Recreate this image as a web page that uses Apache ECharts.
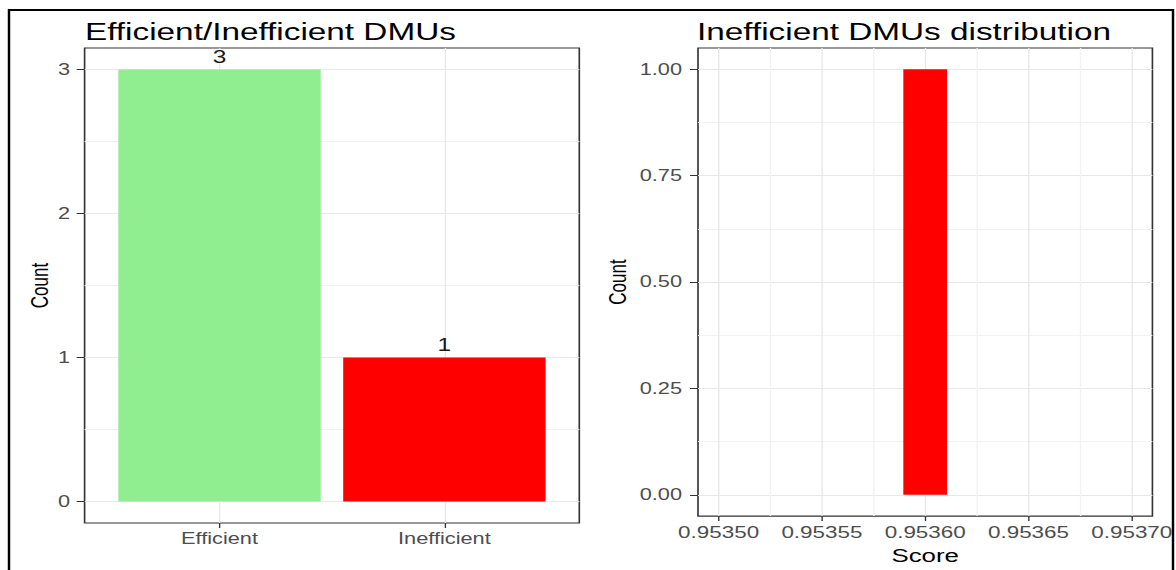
<!DOCTYPE html>
<html>
<head>
<meta charset="utf-8">
<script src="https://cdn.jsdelivr.net/npm/echarts@6/dist/echarts.min.js"></script>
<style>
html,body{margin:0;padding:0;background:#fff;overflow:hidden;width:1176px;height:570px;}
#chart{position:absolute;left:0;top:0;height:570px;transform-origin:0 0;}
</style>
</head>
<body>
<div id="chart"></div>
<script>
// ---- data ----
const categories = ['Efficient', 'Inefficient'];
const counts = [3, 1];
const barColors = ['#90EE90', '#FF0000'];
const countTicksLeft = [0, 1, 2, 3];
const countMinorLeft = [0.5, 1.5, 2.5];

const scoreBinStart = [0.9535894];
const scoreBinEnd = [0.9536106];
const scoreCounts = [1];
const scoreTicks = [0.95350, 0.95355, 0.95360, 0.95365, 0.95370];
const scoreMinor = [0.953525, 0.953575, 0.953625, 0.953675];
const countTicksRight = [0, 0.25, 0.5, 0.75, 1];
const countMinorRight = [0.125, 0.375, 0.625, 0.875];

// ---- layout (the reference is horizontally stretched) ----
const S = 1.36;
const W = 1176 / S;
const px = v => v / S;
const el = document.getElementById('chart');
el.style.width = W + 'px';
el.style.transform = 'scaleX(' + S + ')';

const FONT = '"Liberation Sans", Arial, sans-serif';
const tickColor = '#4d4d4d';
const majorGrid = {show: true, lineStyle: {color: '#e8e8e8', width: 1}};
const minorGrid = {show: true, lineStyle: {color: '#f2f2f2', width: 1}};

function hiddenAxis(base) {
  return Object.assign({
    axisLine: {show: false, onZero: false},
    axisTick: {show: false},
    axisLabel: {show: false},
  }, base);
}

const chart = echarts.init(el, null, {renderer: 'svg'});
chart.setOption({
  animation: false,
  title: [
    {text: 'Efficient/Inefficient DMUs', left: px(85), top: 19, padding: 0,
     textStyle: {fontFamily: FONT, fontSize: 24.5, fontWeight: 'normal', color: '#000'}},
    {text: 'Inefficient DMUs distribution', left: px(697), top: 19, padding: 0,
     textStyle: {fontFamily: FONT, fontSize: 24.5, fontWeight: 'normal', color: '#000'}}
  ],
  grid: [
    {left: px(84.6), top: 48, width: px(494.7), height: 475, show: true,
     borderColor: '#333333', borderWidth: 1.2, backgroundColor: 'transparent'},
    {left: px(698), top: 48, width: px(461), height: 475, show: true,
     borderColor: '#333333', borderWidth: 1.2, backgroundColor: 'transparent'}
  ],
  xAxis: [
    {type: 'value', gridIndex: 0, min: 0.4, max: 2.6,
     axisLine: {show: false, onZero: false},
     axisTick: {show: true, length: 5, customValues: [1, 2], lineStyle: {color: '#333'}},
     axisLabel: {customValues: [1, 2], margin: 8, fontSize: 16, fontFamily: FONT, color: tickColor,
                 formatter: v => categories[Math.round(v) - 1] || ''},
     splitLine: majorGrid},
    {type: 'value', gridIndex: 1, min: 0.95349, max: 0.95371,
     name: 'Score', nameLocation: 'middle', nameGap: 25,
     nameTextStyle: {fontFamily: FONT, fontSize: 19, color: '#000'},
     axisLine: {show: false, onZero: false},
     axisTick: {show: true, length: 5, customValues: scoreTicks, lineStyle: {color: '#333'}},
     axisLabel: {customValues: scoreTicks, margin: 8, fontSize: 16.5, fontFamily: FONT, color: tickColor,
                 hideOverlap: false, showMaxLabel: true, showMinLabel: true,
                 formatter: v => v.toFixed(5)},
     splitLine: majorGrid},
    hiddenAxis({type: 'value', gridIndex: 1, min: 0.95349, max: 0.95371, position: 'top',
     axisTick: {show: false, customValues: scoreMinor}, splitLine: minorGrid})
  ],
  yAxis: [
    {type: 'value', gridIndex: 0, min: -0.15, max: 3.15,
     name: 'Count', nameLocation: 'middle', nameGap: 24, nameRotate: 90,
     nameTextStyle: {fontFamily: FONT, fontSize: 17, color: '#000'},
     axisLine: {show: false, onZero: false},
     axisTick: {show: true, length: px(8), customValues: countTicksLeft, lineStyle: {color: '#333'}},
     axisLabel: {customValues: countTicksLeft, margin: px(14.6), fontSize: 16, fontFamily: FONT, color: tickColor},
     splitLine: majorGrid},
    hiddenAxis({type: 'value', gridIndex: 0, min: -0.15, max: 3.15, position: 'right',
     axisTick: {show: false, customValues: countMinorLeft}, splitLine: minorGrid}),
    {type: 'value', gridIndex: 1, min: -0.05, max: 1.05,
     name: 'Count', nameLocation: 'middle', nameGap: 50, nameRotate: 90,
     nameTextStyle: {fontFamily: FONT, fontSize: 17, color: '#000'},
     axisLine: {show: false, onZero: false},
     axisTick: {show: true, length: px(8), customValues: countTicksRight, lineStyle: {color: '#333'}},
     axisLabel: {customValues: countTicksRight, margin: px(16), fontSize: 16, fontFamily: FONT, color: tickColor,
                 formatter: v => v.toFixed(2)},
     splitLine: majorGrid},
    hiddenAxis({type: 'value', gridIndex: 1, min: -0.05, max: 1.05, position: 'right',
     axisTick: {show: false, customValues: countMinorRight}, splitLine: minorGrid})
  ],
  series: [
    {type: 'custom', xAxisIndex: 0, yAxisIndex: 0, z: 5,
     data: categories.map((c, i) => [i + 1, counts[i]]),
     renderItem: function (params, api) {
       const x = api.value(0), y = api.value(1);
       const p0 = api.coord([x - 0.45, y]);
       const p1 = api.coord([x + 0.45, 0]);
       return {type: 'group', children: [
         {type: 'rect', shape: {x: p0[0], y: p0[1], width: p1[0] - p0[0], height: p1[1] - p0[1]},
          style: {fill: barColors[params.dataIndex]}},
         {type: 'text', style: {text: String(y), x: (p0[0] + p1[0]) / 2, y: p0[1] - 3,
          align: 'center', verticalAlign: 'bottom', fontSize: 18, fontFamily: FONT, fill: '#1a1a1a'}}
       ]};
     }},
    {type: 'custom', xAxisIndex: 1, yAxisIndex: 2, z: 5,
     data: scoreCounts.map((c, i) => [scoreBinStart[i], scoreBinEnd[i], c]),
     renderItem: function (params, api) {
       const p0 = api.coord([api.value(0), api.value(2)]);
       const p1 = api.coord([api.value(1), 0]);
       return {type: 'rect', shape: {x: p0[0], y: p0[1], width: p1[0] - p0[0], height: p1[1] - p0[1]},
               style: {fill: '#FF0000'}};
     }}
  ],
  graphic: [
    {type: 'rect', z: 100, shape: {x: px(1174), y: 0, width: px(10), height: 570}, style: {fill: '#fff'}},
    {type: 'rect', z: 101, shape: {x: px(9), y: 10, width: px(1164), height: 600},
     style: {fill: 'none', stroke: '#000', lineWidth: 1.8}}
  ]
});
</script>
</body>
</html>
